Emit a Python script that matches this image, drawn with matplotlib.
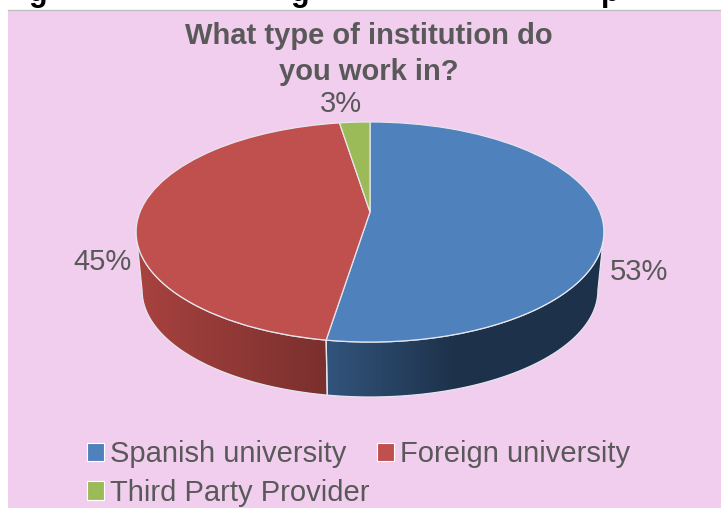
import numpy as np
import matplotlib
matplotlib.use("Agg")
import matplotlib.pyplot as plt
from matplotlib.patches import Patch, Polygon, Rectangle
from matplotlib.transforms import Transform

title = "What type of institution do\nyou work in?"
categories = ["Spanish university", "Foreign university", "Third Party Provider"]
values = [52.5, 45.0, 2.5]
labels = ["53%", "45%", "3%"]
colors = ["#4F81BD", "#C0504D", "#9BBB59"]

BG = "#F2CEEE"
GREY = "#595959"
plt.rcParams["font.family"] = ["Liberation Sans", "DejaVu Sans"]

W, H = 721, 508
fig = plt.figure(figsize=(W / 100, H / 100), dpi=100, facecolor="white")
ax = fig.add_axes([0, 0, 1, 1])

# disc projection: far edge is compressed, near edge enlarged
CX, CY, A, B, K = 370.0, 212.0, 230.0, 106.4, 0.1818


class Perspective(Transform):
    input_dims = output_dims = 2

    def transform_non_affine(self, xy):
        xy = np.asarray(xy, float)
        d = 1 + K * xy[:, 1]
        return np.column_stack([CX + A * xy[:, 0] / d, CY - B * xy[:, 1] / d])

    def transform_path_non_affine(self, path):
        p = path.interpolated(12) if path.codes is None else path
        return matplotlib.path.Path(self.transform_non_affine(p.vertices), p.codes)


persp = Perspective()

wedges, _ = ax.pie(values, colors=colors, startangle=90, counterclock=False, radius=1,
                   wedgeprops=dict(edgecolor="#E6E6EE", linewidth=0.9), frame=True)
ax.set_aspect("auto")
ax.set_xlim(0, W)
ax.set_ylim(H, 0)
ax.axis("off")
for w in wedges:
    w.set_transform(persp + ax.transData)
    w.set_zorder(5)

ax.add_patch(Rectangle((8, 10), W - 8, H - 10, facecolor=BG, edgecolor="none", zorder=0))
ax.plot([8, W], [10, 10], color="#BFBFBF", lw=1, zorder=1)

# side wall of the disc
def top_pts(th):
    return persp.transform_non_affine(np.column_stack([np.sin(th), np.cos(th)]))


def bottom_pts(p):
    mid = 231.5
    return np.column_stack([CX + (p[:, 0] - CX) * 228 / 234, 290 + (p[:, 1] - mid) * 106 / 109.5])


ramps = [((326, (50, 84, 124)), (455, (29, 50, 74))),
         ((136, (168, 66, 63)), (326, (122, 48, 46)))]
edges = np.cumsum([0] + values) / sum(values) * 2 * np.pi
for i in range(2):
    th = np.linspace(edges[i], edges[i + 1], 300)
    pts = top_pts(th)
    pts = pts[pts[:, 1] >= 231.5]
    poly = np.vstack([pts, bottom_pts(pts)[::-1]])
    clip = Polygon(poly, closed=True, facecolor="none", edgecolor="#E6E6EE", lw=0.9, zorder=3)
    ax.add_patch(clip)
    (x0, c0), (x1, c1) = ramps[i]
    xs = np.arange(120, 620)
    t = np.clip((xs - x0) / (x1 - x0), 0, 1)[None, :, None]
    grad = (np.array(c0) + (np.array(c1) - np.array(c0)) * t) / 255
    im = ax.imshow(grad, extent=(120, 620, 410, 220), aspect="auto", zorder=2, interpolation="bilinear")
    im.set_clip_path(clip)
ax.set_xlim(0, W)
ax.set_ylim(H, 0)

# slice labels
label_pos = [(639, 272), (102, 262), (341, 104)]
for s, (x, y) in zip(labels, label_pos):
    ax.text(x, y, s, fontsize=21, color=GREY, ha="center", va="center", zorder=6)

# chart title
ax.text(369, 54, title, fontsize=21, fontweight="bold", color=GREY, ha="center", va="center",
        linespacing=1.33, zorder=6)

# clipped heading above the chart: only the descenders are legible
for x, s in [(38, "g"), (300, "g"), (610, "p")]:
    ax.text(x, 1, s, fontsize=22, fontweight="bold", color="black", ha="center", va="baseline",
            clip_on=False, zorder=6)

handles = [Patch(facecolor=c, edgecolor="white", lw=0.8) for c in colors]
order = [0, 2, 1]
leg = ax.legend([handles[i] for i in order], [categories[i] for i in order], ncol=2, frameon=False,
                fontsize=21, labelcolor=GREY, handlelength=0.58, handleheight=0.58, handletextpad=0.2,
                columnspacing=0.28, labelspacing=0.37, borderpad=0, borderaxespad=0,
                loc="upper left", bbox_to_anchor=(87 / W, 1 - 440 / H), bbox_transform=fig.transFigure)
leg.set_zorder(6)

fig.savefig("out.png", dpi=100, facecolor="white")
